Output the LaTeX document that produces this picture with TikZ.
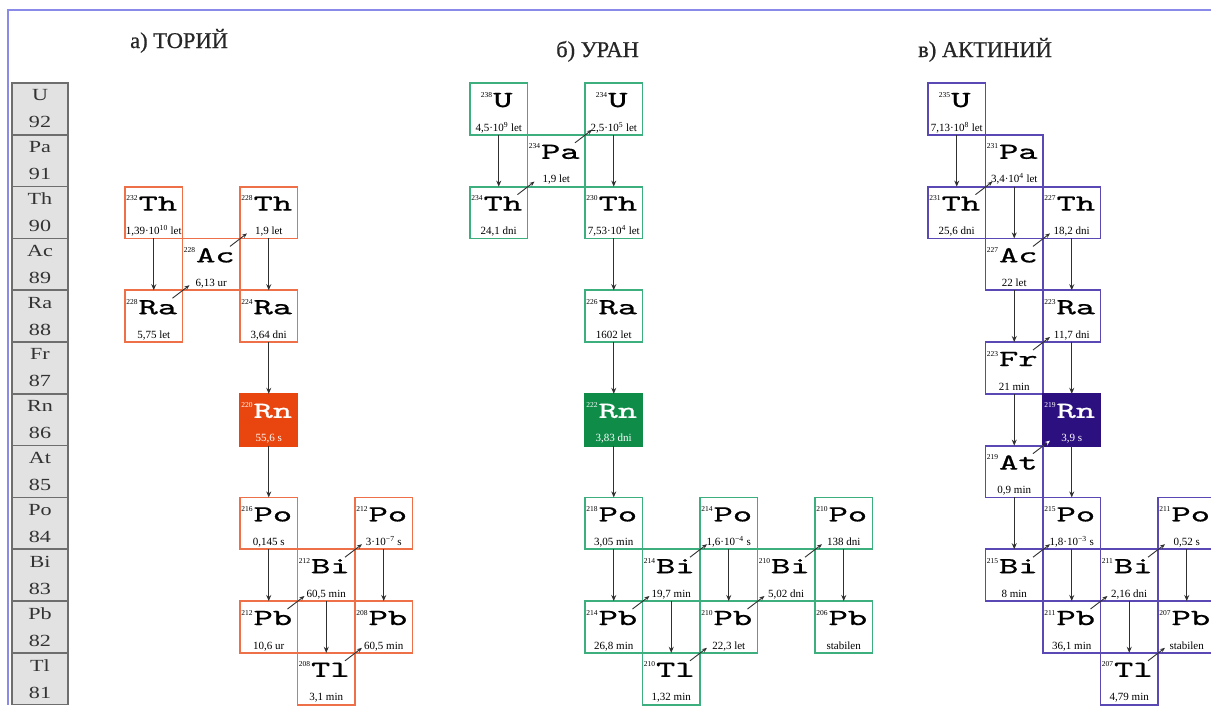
\documentclass[tikz,border=0pt]{standalone}
\usepackage{fontspec}
\setmainfont{Liberation Serif}
\newfontfamily\widefam[FakeStretch=1.3]{Liberation Serif}
\newfontfamily\titlefam[FakeBold=0.6]{Liberation Serif}
\newfontfamily\symfam{lmmono10-regular.otf}[FakeStretch=1.6,FakeBold=0.8]
\usetikzlibrary{calc,arrows.meta}
\definecolor{thc}{HTML}{EE7048}
\definecolor{thf}{HTML}{E8460E}
\definecolor{urc}{HTML}{3DAE7E}
\definecolor{urf}{HTML}{0E8C48}
\definecolor{acc}{HTML}{5A48B4}
\definecolor{acf}{HTML}{2C1080}
\definecolor{framec}{HTML}{8A8AE8}
\definecolor{gridf}{HTML}{E2E2E2}
\definecolor{gridd}{HTML}{6E6E6E}
\definecolor{arr}{HTML}{303030}
\newcommand\massf{\fontsize{7.5}{8}\selectfont}
\newcommand\symf{\symfam\fontsize{23}{24}\selectfont}
\newcommand\hlf{\fontsize{11}{12}\selectfont}
\newcommand\nuc[9]{%
  \node[nucbox, draw=#2, fill=#3, anchor=north west] (#1) at (#5,{83+51.8*#6}) {};
  \node[lbl, text=#4, anchor=base] (#1s) at ($(#1.north)+(-2,24)$) {\raisebox{10pt}{\massf #7}\kern1pt{\symf #8}};
  \node[lbl, text=#4, anchor=base, font=\hlf] (#1h) at ($(#1.north)+(0,48)$) {#9};
}
\newcommand\alp[2]{\draw[alphaarr] (#1.south) -- (#2.north);}
\newcommand\bet[2]{\draw[betaarr] ($(#1.north east)+(-10,8)$) -- ($(#2.south west)+(7,-5)$);}
\newcommand\grd[4]{\node[gridbox] (#1) at (40,{83+51.8*#2+25.9}) {#3\\#4};}
\begin{document}
\begin{tikzpicture}[x=1pt,y=-1pt,
  nucbox/.style={line width=1.8pt, minimum width=57.5pt, minimum height=51.8pt, inner sep=0pt, outer sep=0pt},
  lbl/.style={inner sep=0pt, outer sep=0pt},
  gridbox/.style={draw=gridd, fill=gridf, line width=1.5pt, minimum width=56pt, minimum height=51.8pt, inner sep=0pt, align=center, font=\widefam\fontsize{17}{27}\selectfont, text=black!80},
  alphaarr/.style={draw=arr, line width=1.3pt, -{Stealth[length=6pt,width=5pt]}},
  betaarr/.style={draw=arr, line width=0.9pt, -{Stealth[length=5pt,width=4pt]}},
  wbetaarr/.style={draw=arr, line width=0.9pt, -{Stealth[length=5pt,width=4pt,color=white]}},
  title/.style={inner sep=0pt, anchor=base west, font=\titlefam\fontsize{22.5}{24}\selectfont, text=black!85}]
\useasboundingbox (0,0) rectangle (1211,705);
\fill[white] (0,0) rectangle (1211,705);
\draw[framec, line width=2.5pt] (1211,10) -- (8,10) -- (8,705);
% titles
\node[title] (t1) at (130,48) {а) ТОРИЙ};
\node[title] (t2) at (556,57) {б) УРАН};
\node[title] (t3) at (918,57) {в) АКТИНИЙ};
% element column
\grd{gU}{0}{U}{92}
\grd{gPa}{1}{Pa}{91}
\grd{gTh}{2}{Th}{90}
\grd{gAc}{3}{Ac}{89}
\grd{gRa}{4}{Ra}{88}
\grd{gFr}{5}{Fr}{87}
\grd{gRn}{6}{Rn}{86}
\grd{gAt}{7}{At}{85}
\grd{gPo}{8}{Po}{84}
\grd{gBi}{9}{Bi}{83}
\grd{gPb}{10}{Pb}{82}
\grd{gTl}{11}{Tl}{81}
% ---------- thorium ----------
\nuc{th232}{thc}{white}{black}{125}{2}{232}{Th}{1,39·10\textsuperscript{10} let}
\nuc{ac228}{thc}{none}{black}{182.5}{3}{228}{Ac}{6,13 ur}
\nuc{th228}{thc}{none}{black}{240}{2}{228}{Th}{1,9 let}
\nuc{ra228}{thc}{none}{black}{125}{4}{228}{Ra}{5,75 let}
\nuc{ra224}{thc}{none}{black}{240}{4}{224}{Ra}{3,64 dni}
\nuc{rn220}{thf}{thf}{white}{240}{6}{220}{Rn}{55,6 s}
\nuc{po216}{thc}{none}{black}{240}{8}{216}{Po}{0,145 s}
\nuc{po212}{thc}{none}{black}{355}{8}{212}{Po}{3·10\textsuperscript{−7} s}
\nuc{bi212}{thc}{none}{black}{297.5}{9}{212}{Bi}{60,5 min}
\nuc{pb212}{thc}{none}{black}{240}{10}{212}{Pb}{10,6 ur}
\nuc{pb208}{thc}{none}{black}{355}{10}{208}{Pb}{60,5 min}
\nuc{tl208}{thc}{none}{black}{297.5}{11}{208}{Tl}{3,1 min}
\alp{th232}{ra228}
\alp{th228}{ra224}
\alp{ra224}{rn220}
\alp{rn220}{po216}
\alp{po216}{pb212}
\alp{bi212}{tl208}
\alp{po212}{pb208}
\bet{ra228}{ac228}
\bet{ac228}{th228}
\bet{pb212}{bi212}
\bet{bi212}{po212}
\bet{tl208}{pb208}
% ---------- uranium ----------
\nuc{u238}{urc}{none}{black}{470}{0}{238}{U}{4,5·10\textsuperscript{9} let}
\nuc{pa234}{urc}{none}{black}{527.5}{1}{234}{Pa}{1,9 let}
\nuc{u234}{urc}{none}{black}{585}{0}{234}{U}{2,5·10\textsuperscript{5} let}
\nuc{th234}{urc}{none}{black}{470}{2}{234}{Th}{24,1 dni}
\nuc{th230}{urc}{none}{black}{585}{2}{230}{Th}{7,53·10\textsuperscript{4} let}
\nuc{ra226}{urc}{none}{black}{585}{4}{226}{Ra}{1602 let}
\nuc{rn222}{urf}{urf}{white}{585}{6}{222}{Rn}{3,83 dni}
\nuc{po218}{urc}{none}{black}{585}{8}{218}{Po}{3,05 min}
\nuc{po214}{urc}{none}{black}{700}{8}{214}{Po}{1,6·10\textsuperscript{−4} s}
\nuc{po210}{urc}{none}{black}{815}{8}{210}{Po}{138 dni}
\nuc{bi214}{urc}{none}{black}{642.5}{9}{214}{Bi}{19,7 min}
\nuc{bi210}{urc}{none}{black}{757.5}{9}{210}{Bi}{5,02 dni}
\nuc{pb214}{urc}{none}{black}{585}{10}{214}{Pb}{26,8 min}
\nuc{pb210}{urc}{none}{black}{700}{10}{210}{Pb}{22,3 let}
\nuc{pb206}{urc}{none}{black}{815}{10}{206}{Pb}{stabilen}
\nuc{tl210}{urc}{none}{black}{642.5}{11}{210}{Tl}{1,32 min}
\alp{u238}{th234}
\alp{u234}{th230}
\alp{th230}{ra226}
\alp{ra226}{rn222}
\alp{rn222}{po218}
\alp{po218}{pb214}
\alp{bi214}{tl210}
\alp{po214}{pb210}
\alp{po210}{pb206}
\bet{th234}{pa234}
\bet{pa234}{u234}
\bet{pb214}{bi214}
\bet{bi214}{po214}
\bet{tl210}{pb210}
\bet{pb210}{bi210}
\bet{bi210}{po210}
% ---------- actinium ----------
\nuc{u235}{acc}{none}{black}{928}{0}{235}{U}{7,13·10\textsuperscript{8} let}
\nuc{pa231}{acc}{none}{black}{985.5}{1}{231}{Pa}{3,4·10\textsuperscript{4} let}
\nuc{th231}{acc}{none}{black}{928}{2}{231}{Th}{25,6 dni}
\nuc{th227}{acc}{none}{black}{1043}{2}{227}{Th}{18,2 dni}
\nuc{ac227}{acc}{none}{black}{985.5}{3}{227}{Ac}{22 let}
\nuc{ra223}{acc}{none}{black}{1043}{4}{223}{Ra}{11,7 dni}
\nuc{fr223}{acc}{none}{black}{985.5}{5}{223}{Fr}{21 min}
\nuc{rn219}{acf}{acf}{white}{1043}{6}{219}{Rn}{3,9 s}
\nuc{at219}{acc}{none}{black}{985.5}{7}{219}{At}{0,9 min}
\nuc{po215}{acc}{none}{black}{1043}{8}{215}{Po}{1,8·10\textsuperscript{−3} s}
\nuc{po211}{acc}{none}{black}{1158}{8}{211}{Po}{0,52 s}
\nuc{bi215}{acc}{none}{black}{985.5}{9}{215}{Bi}{8 min}
\nuc{bi211}{acc}{none}{black}{1100.5}{9}{211}{Bi}{2,16 dni}
\nuc{pb211}{acc}{none}{black}{1043}{10}{211}{Pb}{36,1 min}
\nuc{pb207}{acc}{none}{black}{1158}{10}{207}{Pb}{stabilen}
\nuc{tl207}{acc}{none}{black}{1100.5}{11}{207}{Tl}{4,79 min}
\alp{u235}{th231}
\alp{pa231}{ac227}
\alp{ac227}{fr223}
\alp{th227}{ra223}
\alp{ra223}{rn219}
\alp{fr223}{at219}
\alp{rn219}{po215}
\alp{at219}{bi215}
\alp{po215}{pb211}
\alp{bi211}{tl207}
\alp{po211}{pb207}
\bet{th231}{pa231}
\bet{ac227}{th227}
\bet{fr223}{ra223}
\draw[wbetaarr] ($(at219.north east)+(-10,8)$) -- ($(rn219.south west)+(7,-5)$);
\bet{bi215}{po215}
\bet{pb211}{bi211}
\bet{bi211}{po211}
\bet{tl207}{pb207}
\end{tikzpicture}
\end{document}
